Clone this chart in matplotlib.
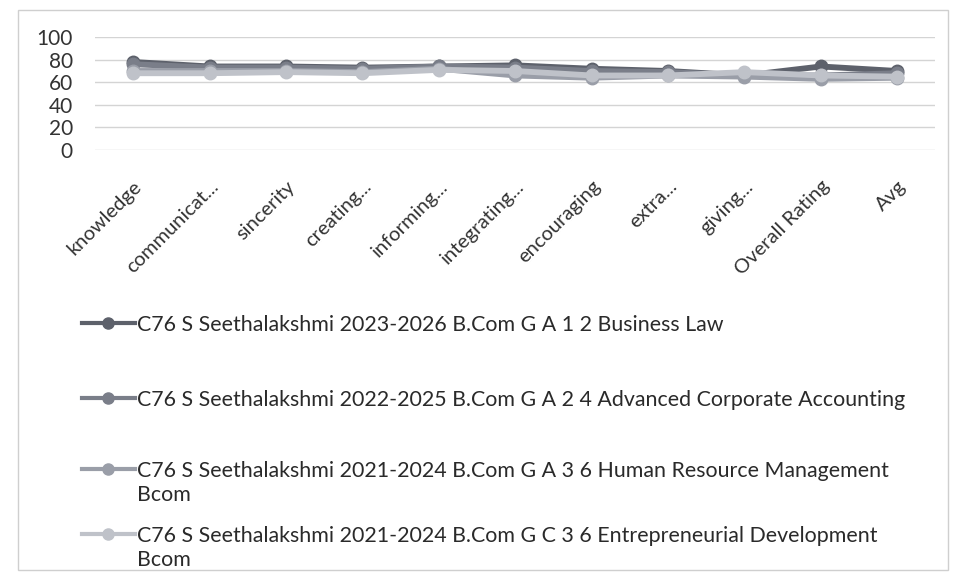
import matplotlib
matplotlib.use('Agg')
import matplotlib.pyplot as plt
from matplotlib.lines import Line2D
from matplotlib.patches import Rectangle

categories = ["knowledge", "communicat...", "sincerity", "creating...", "informing...",
              "integrating...", "encouraging", "extra...", "giving...", "Overall Rating", "Avg"]

business_law = [78, 74, 74, 73, 74, 75, 72, 70, 66, 74, 70]
adv_corp_acc = [76, 73, 73, 72, 74, 73, 70, 69, 66, 66, 68]
hrm_bcom = [70, 70, 70, 69, 72, 66, 64, 66, 65, 63, 64]
entre_dev = [68, 68, 69, 68, 71, 70, 66, 66, 69, 66, 65]

series_names = [
    "C76 S Seethalakshmi 2023-2026 B.Com G A 1 2 Business Law",
    "C76 S Seethalakshmi 2022-2025 B.Com G A 2 4 Advanced Corporate Accounting",
    "C76 S Seethalakshmi 2021-2024 B.Com G A 3 6 Human Resource Management\nBcom",
    "C76 S Seethalakshmi 2021-2024 B.Com G C 3 6 Entrepreneurial Development\nBcom",
]
yticks = [0, 20, 40, 60, 80, 100]

colors = ["#5d616b", "#7a7e89", "#9a9ea8", "#bfc2c9"]

plt.rcParams['font.family'] = ['Lato', 'DejaVu Sans']

fig = plt.figure(figsize=(9.55, 5.72), dpi=100)
ax = fig.add_axes([0.0995, 0.738, 0.88, 0.197])

x = list(range(len(categories)))
all_series = [business_law, adv_corp_acc, hrm_bcom, entre_dev]
for vals, c in zip(all_series, colors):
    ax.plot(x, vals, color=c, lw=4.2, marker='o', ms=9, mfc=c, mec=c, zorder=3)

ax.set_xlim(-0.5, len(categories) - 0.5)
ax.set_ylim(0, 100)
ax.set_yticks(yticks)
ax.set_xticks(x)
ax.set_xticklabels(categories, rotation=45, ha='right', rotation_mode='anchor',
                   fontsize=14.5, color='#333333')
ax.tick_params(axis='y', labelsize=15, labelcolor='#333333', length=0, pad=16)
ax.tick_params(axis='x', length=0, pad=20)
ax.grid(axis='y', color='#d4d4d4', lw=1)
ax.set_axisbelow(True)
for s in ax.spines.values():
    s.set_visible(False)

# legend, drawn by hand so the marker sits on the first line of wrapped names
leg_y = [0.435, 0.304, 0.180, 0.067]
for name, c, yy in zip(series_names, colors, leg_y):
    fig.add_artist(Line2D([0.086, 0.141], [yy, yy], transform=fig.transFigure,
                          color=c, lw=3))
    fig.add_artist(Line2D([0.1135], [yy], transform=fig.transFigure,
                          color=c, marker='o', ms=8, lw=0))
    for i, part in enumerate(name.split("\n")):
        fig.text(0.143, yy - i * 0.042, part, fontsize=15.4, color='#2a2a2a',
                 va='center_baseline')

fig.add_artist(Rectangle((0.019, 0.004), 0.974, 0.978, transform=fig.transFigure,
                         fill=False, ec='#cfcfcf', lw=1))

plt.savefig("out.png", dpi=100)
plt.close()
